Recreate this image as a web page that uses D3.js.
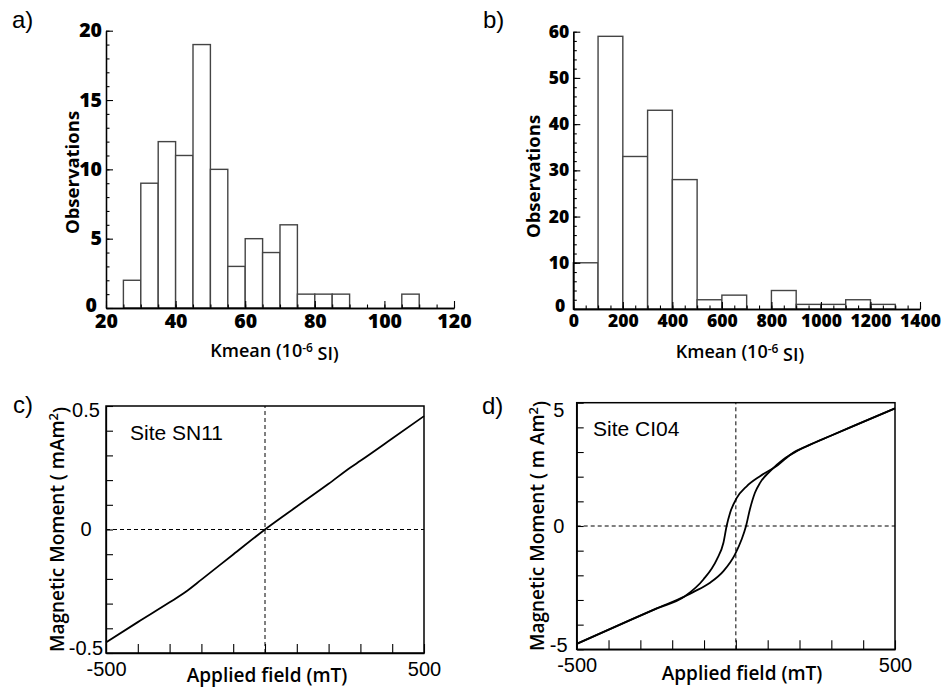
<!DOCTYPE html>
<html>
<head>
<meta charset="utf-8">
<script src="https://cdn.jsdelivr.net/npm/d3@7"></script>
<style>
  html, body { margin: 0; padding: 0; background: #fff; }
  svg { display: block; }
</style>
</head>
<body>
<svg id="chart" width="950" height="690"></svg>
<script>
// ---------------- DATA ----------------
// Panel a: histogram of Kmean (10^-6 SI)
const aBinStart = [25, 30, 35, 40, 45, 50, 55, 60, 65, 70, 75, 80, 85, 105];
const aCounts   = [2, 9, 12, 11, 19, 10, 3, 5, 4, 6, 1, 1, 1, 1];
const aBinWidth = 5;
const aXTicks = [20, 40, 60, 80, 100, 120];
const aYTicks = [0, 5, 10, 15, 20];

// Panel b: histogram of Kmean (10^-6 SI)
const bBinStart = [0, 100, 200, 300, 400, 500, 600, 800, 900, 1000, 1100, 1200];
const bCounts   = [10, 59, 33, 43, 28, 2, 3, 4, 1, 1, 2, 1];
const bBinWidth = 100;
const bXTicks = [0, 200, 400, 600, 800, 1000, 1200, 1400];
const bYTicks = [0, 10, 20, 30, 40, 50, 60];

// Panel c: Site SN11 hysteresis (mAm^2 vs mT)
const cField  = [-500, -400, -300, -250, -200, -100, 0, 100, 200, 270, 300, 400, 500];
const cMoment = [-0.457, -0.375, -0.295, -0.253, -0.203, -0.101, 0, 0.093, 0.185, 0.252, 0.278, 0.368, 0.459];
const cXTickLabels = [-500, 500];
const cYTickLabels = [-0.5, 0, 0.5];

// Panel d: Site CI04 hysteresis loop (m Am^2 vs mT)
const dUpperField  = [-500, -350, -250, -160, -102, -60, -39, -29, -18, 3, 34, 76, 128, 180, 225, 300, 400, 500];
const dUpperMoment = [-4.78, -3.92, -3.35, -2.85, -2.17, -1.36, -0.68, 0, 0.54, 1.14, 1.61, 2.02, 2.43, 2.97, 3.25, 3.67, 4.22, 4.77];
const dLowerField  = [-500, -350, -250, -160, -134, -81, -39, -3, 18, 32, 44, 60, 76, 107, 149, 191, 225, 300, 400, 500];
const dLowerMoment = [-4.78, -3.92, -3.35, -2.85, -2.68, -2.30, -1.83, -1.16, -0.55, 0, 0.67, 1.35, 1.75, 2.22, 2.70, 3.03, 3.25, 3.67, 4.22, 4.77];
const dXTickLabels = [-500, 500];
const dYTickLabels = [-5, 0, 5];

// ---------------- DRAWING ----------------
const svg = d3.select("#chart");
const BOLD = "'Open Sans', 'DejaVu Sans', sans-serif";
const ARIAL = "'Liberation Sans', Arial, sans-serif";

function styleAxis(g, fontSize, family, weight) {
  g.select(".domain").attr("stroke", "#000").attr("stroke-width", 1.3);
  g.selectAll(".tick line").attr("stroke", "#000").attr("stroke-width", 1.1);
  g.selectAll("text").attr("font-family", family).attr("font-size", fontSize)
    .attr("font-weight", weight).attr("fill", "#000");
}

function histogram(opts) {
  const { binStart, counts, binWidth, xDomain, xRange, yDomain, yRange,
          xTicks, yTicks, xMinorStep, yMinorStep, fontSize, zeroShiftX } = opts;
  const x = d3.scaleLinear().domain(xDomain).range(xRange);
  const y = d3.scaleLinear().domain(yDomain).range(yRange);
  const g = svg.append("g");

  const bins = binStart.map((s, i) => ({ s, c: counts[i] }));
  g.selectAll("rect.bar").data(bins).join("rect")
    .attr("class", "bar")
    .attr("x", d => x(d.s))
    .attr("y", d => y(d.c))
    .attr("width", d => x(d.s + binWidth) - x(d.s))
    .attr("height", d => y(0) - y(d.c))
    .attr("fill", "#fff").attr("stroke", "#444").attr("stroke-width", 1.4);

  // minor ticks
  const xMinor = d3.range(xDomain[0], xDomain[1] + 1e-9, xMinorStep);
  const yMinor = d3.range(yDomain[0], yDomain[1] + 1e-9, yMinorStep);
  g.append("g").attr("transform", `translate(0,${y(yDomain[0])})`)
    .call(d3.axisBottom(x).tickValues(xMinor).tickSize(-3.5).tickSizeOuter(0).tickFormat(""))
    .call(a => styleAxis(a, fontSize, BOLD, 700));
  g.append("g").attr("transform", `translate(${x(xDomain[0])},0)`)
    .call(d3.axisLeft(y).tickValues(yMinor).tickSize(-3.5).tickSizeOuter(0).tickFormat(""))
    .call(a => styleAxis(a, fontSize, BOLD, 700));
  // major ticks + labels
  g.append("g").attr("transform", `translate(0,${y(yDomain[0])})`)
    .call(d3.axisBottom(x).tickValues(xTicks).tickSize(-7).tickSizeOuter(0).tickPadding(6).tickFormat(d3.format("d")))
    .call(a => styleAxis(a, fontSize, BOLD, 800));
  const ya = g.append("g").attr("transform", `translate(${x(xDomain[0])},0)`)
    .call(d3.axisLeft(y).tickValues(yTicks).tickSize(-7).tickSizeOuter(0).tickPadding(4).tickFormat(d3.format("d")))
    .call(a => styleAxis(a, fontSize, BOLD, 800));
  ya.selectAll("text").attr("transform", d => d === yDomain[0] ? `translate(${zeroShiftX},-3)` : null);
  return { x, y };
}

// ---- Panel a ----
histogram({
  binStart: aBinStart, counts: aCounts, binWidth: aBinWidth,
  xDomain: [20, 120], xRange: [106, 454], yDomain: [0, 20], yRange: [308, 30.7],
  xTicks: aXTicks, yTicks: aYTicks, xMinorStep: 5, yMinorStep: 1, fontSize: 19.5, zeroShiftX: -5
});
// ---- Panel b ----
histogram({
  binStart: bBinStart, counts: bCounts, binWidth: bBinWidth,
  xDomain: [0, 1400], xRange: [573.3, 920], yDomain: [0, 60], yRange: [309, 31.7],
  xTicks: bXTicks, yTicks: bYTicks, xMinorStep: 50, yMinorStep: 2, fontSize: 17.5, zeroShiftX: -4
});

// y labels for histograms
[[79, 172.5], [540, 176.5]].forEach(([tx, ty]) => {
  svg.append("text").attr("transform", `translate(${tx},${ty}) rotate(-90)`)
    .attr("text-anchor", "middle").attr("font-family", BOLD).attr("font-weight", 700)
    .attr("font-size", 18.5).text("Observations");
});
// x labels for histograms
[[274.5, 357], [740, 358]].forEach(([tx, ty]) => {
  const t = svg.append("text").attr("x", tx).attr("y", ty).attr("text-anchor", "middle")
    .attr("font-family", BOLD).attr("font-weight", 600).attr("font-size", 18);
  t.append("tspan").text("Kmean (10");
  t.append("tspan").attr("dy", "-0.45em").attr("font-size", 12).text("-6");
  t.append("tspan").attr("dy", "0.45em").text(" SI)");
});

// ---- Hysteresis panels ----
function loopPanel(opts) {
  const { xRange, yRange, yDomain, yMinorCount, xLabels, yLabels, yFmt, branches,
          site, siteX, siteY, yLabelX, xLabelX, xLabelY, mUnit, topShift, botShift, yLabelOffset } = opts;
  const x = d3.scaleLinear().domain([-500, 500]).range(xRange);
  const y = d3.scaleLinear().domain(yDomain).range(yRange);
  const g = svg.append("g");

  // dashed zero lines
  g.append("line").attr("x1", x(0)).attr("x2", x(0)).attr("y1", y(yDomain[0])).attr("y2", y(yDomain[1]))
    .attr("stroke", "#000").attr("stroke-width", 1).attr("stroke-dasharray", "4,3");
  g.append("line").attr("x1", x(-500)).attr("x2", x(500)).attr("y1", y(0)).attr("y2", y(0))
    .attr("stroke", "#000").attr("stroke-width", 1).attr("stroke-dasharray", "4,3");

  // curves
  const line = d3.line().x(d => x(d[0])).y(d => y(d[1])).curve(d3.curveMonotoneX);
  branches.forEach(([hs, ms]) => {
    g.append("path").datum(hs.map((h, i) => [h, ms[i]]))
      .attr("d", line).attr("fill", "none").attr("stroke", "#000").attr("stroke-width", 1.8);
  });

  // axes with inward ticks
  const xT = d3.range(-500, 500.001, 100);
  const yT = d3.ticks(yDomain[0], yDomain[1], yMinorCount);
  g.append("g").attr("transform", `translate(0,${y(yDomain[0])})`)
    .call(d3.axisBottom(x).tickValues(xT).tickSize(-9).tickSizeOuter(0).tickPadding(9)
      .tickFormat(d => xLabels.includes(d) ? String(d) : ""))
    .call(a => styleAxis(a, 20, ARIAL, 400));
  const ya = g.append("g").attr("transform", `translate(${x(-500)},0)`)
    .call(d3.axisLeft(y).tickValues(yT).tickSize(-7).tickSizeOuter(0).tickPadding(yLabelOffset)
      .tickFormat(d => yLabels.some(v => Math.abs(v - d) < 1e-9) ? yFmt(d) : ""))
    .call(a => styleAxis(a, 20, ARIAL, 400));
  ya.selectAll("text").attr("text-anchor", "middle")
    .attr("transform", d => Math.abs(d - yDomain[1]) < 1e-9 ? `translate(0,${topShift})`
      : (Math.abs(d - yDomain[0]) < 1e-9 ? `translate(0,${botShift})` : null));

  // frame
  g.append("rect").attr("x", x(-500)).attr("y", y(yDomain[1]))
    .attr("width", x(500) - x(-500)).attr("height", y(yDomain[0]) - y(yDomain[1]))
    .attr("fill", "none").attr("stroke", "#000").attr("stroke-width", 1.5);

  // site label
  g.append("text").attr("x", siteX).attr("y", siteY).attr("font-family", ARIAL)
    .attr("font-size", 21).text(site);

  // axis titles
  g.append("text").attr("x", xLabelX).attr("y", xLabelY).attr("text-anchor", "middle")
    .attr("font-family", BOLD).attr("font-weight", 600).attr("font-size", 19).text("Applied field (mT)");
  const yt = g.append("text").attr("transform", `translate(${yLabelX},${(y(yDomain[0]) + y(yDomain[1])) / 2}) rotate(-90)`)
    .attr("text-anchor", "middle").attr("font-family", BOLD).attr("font-weight", 600).attr("font-size", 19);
  yt.append("tspan").text(`Magnetic Moment ( ${mUnit}`);
  yt.append("tspan").attr("dy", "-0.5em").attr("font-size", 13).text("2");
  yt.append("tspan").attr("dy", "0.5em").text(")");
}

loopPanel({
  xRange: [106, 424], yRange: [653, 406], yDomain: [-0.5, 0.5], yMinorCount: 10,
  xLabels: cXTickLabels, yLabels: cYTickLabels, yFmt: d => d === 0 ? "0" : d3.format(".1f")(d).replace("\u2212", "-"),
  branches: [[cField, cMoment]],
  site: "Site SN11", siteX: 130, siteY: 440, yLabelX: 64, xLabelX: 267, xLabelY: 682,
  mUnit: "mAm", topShift: 4, botShift: -5, yLabelOffset: 20
});
loopPanel({
  xRange: [576.7, 895], yRange: [649.3, 402.7], yDomain: [-5, 5], yMinorCount: 10,
  xLabels: dXTickLabels, yLabels: dYTickLabels, yFmt: d => String(d),
  branches: [[dUpperField, dUpperMoment], [dLowerField, dLowerMoment]],
  site: "Site CI04", siteX: 593, siteY: 436, yLabelX: 544, xLabelX: 742, xLabelY: 680,
  mUnit: "m Am", topShift: 7, botShift: -4, yLabelOffset: 18
});

// panel letters
[["a)", 12, 28], ["b)", 483, 28], ["c)", 13, 413], ["d)", 482, 414]].forEach(([t, tx, ty]) => {
  svg.append("text").attr("x", tx).attr("y", ty).attr("font-family", ARIAL)
    .attr("font-size", 24).text(t);
});
</script>
</body>
</html>
